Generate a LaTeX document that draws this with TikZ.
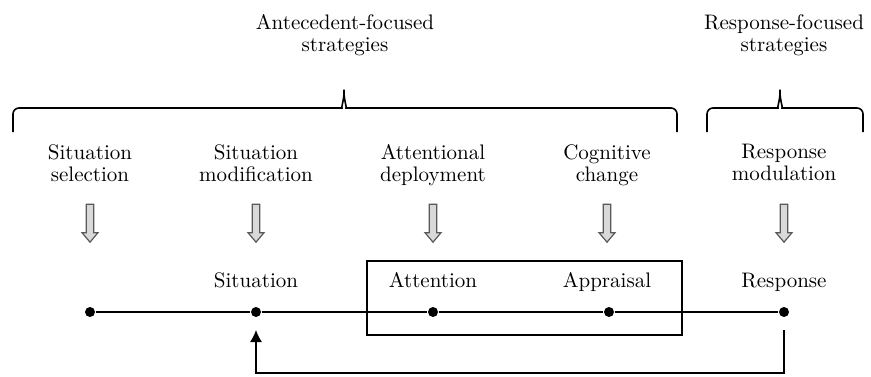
\documentclass[tikz,border=0pt]{standalone}
\usepackage{tikz}
\usetikzlibrary{arrows,arrows.meta,shapes}
\tikzstyle{strat} = [align=center, inner sep=0pt, anchor=north,
    font=\fontsize{10.5}{11}\selectfont]
\tikzstyle{stage} = [inner sep=0pt, anchor=base, font=\fontsize{10.5}{11}\selectfont]
\tikzstyle{dot} = [circle, fill=black, inner sep=0pt, minimum size=5pt]
\tikzstyle{hollow} = [single arrow, draw=black!65, fill=black!15, rotate=-90,
    minimum height=19pt, minimum width=8pt, single arrow head extend=2pt,
    single arrow tip angle=80, inner sep=1.4pt]
\tikzstyle{brace} = [thick, rounded corners=3pt]

\begin{document}
\begin{tikzpicture}[>={Latex[length=6pt,width=6pt]}, x=0.5pt, y=-0.5pt, semithick]
  \useasboundingbox (0,0) rectangle (871,376);

  \node[strat] (ante) at (345,14) {Antecedent-focused\\strategies};
  \node[strat] (respf) at (784,14) {Response-focused\\strategies};

  \draw[brace] (13,132) -- (13,108) -- (336,108)
    .. controls (341,108) and (344,100) .. (344,86)
    .. controls (344,100) and (347,108) .. (352,108) -- (677,108) -- (677,132);
  \draw[brace] (707,132) -- (707,108) -- (772,108)
    .. controls (777,108) and (780,100) .. (780,86)
    .. controls (780,100) and (783,108) .. (788,108) -- (863,108) -- (863,132);

  \node[strat] (sel)  at (90,144)  {Situation\\selection};
  \node[strat] (mod)  at (256,144) {Situation\\modification};
  \node[strat] (dep)  at (433,144) {Attentional\\deployment};
  \node[strat] (cog)  at (607,144) {Cognitive\\change};
  \node[strat] (modu) at (784,144) {Response\\modulation};

  \node[hollow] (a0) at (90,221)  {};
  \node[hollow] (a1) at (256,221) {};
  \node[hollow] (a2) at (433,221) {};
  \node[hollow] (a3) at (607,221) {};
  \node[hollow] (a4) at (784,221) {};

  \node[draw, minimum width=157.5pt, minimum height=37pt] (box) at (524.5,298) {};

  \node[stage] (sit)  at (256,287) {Situation};
  \node[stage] (att)  at (433,287) {Attention};
  \node[stage] (app)  at (607,287) {Appraisal};
  \node[stage] (resp) at (784,287) {Response};

  \node[dot] (t0) at (90,312)  {};
  \node[dot] (t1) at (256,312) {};
  \node[dot] (t2) at (433,312) {};
  \node[dot] (t3) at (609,312) {};
  \node[dot] (t4) at (784,312) {};
  \draw[line width=1.4pt] (t0) -- (t1) -- (t2) -- (t3) -- (t4);

  \coordinate (fbtop) at (784,330);
  \coordinate (fblow) at (784,373);
  \coordinate (fbend) at (256,330);
  \draw[->] (fbtop) -- (fblow) -| (fbend);
\end{tikzpicture}
\end{document}
